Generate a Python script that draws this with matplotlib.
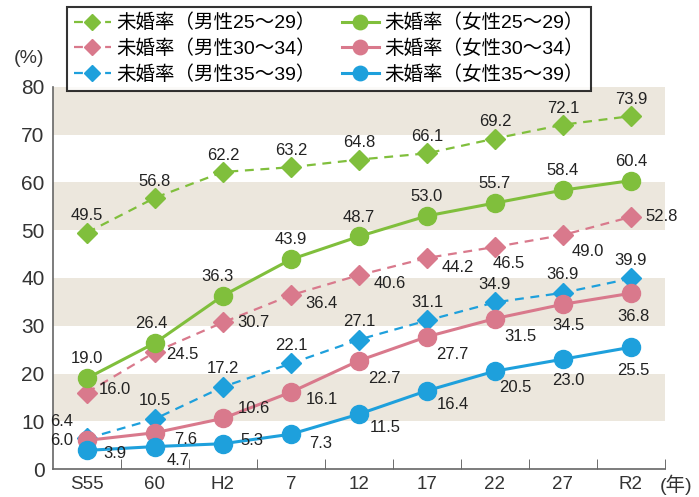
import numpy as np
import matplotlib.pyplot as plt

plt.rcParams['font.family'] = ['Liberation Sans', 'Noto Sans CJK JP', 'DejaVu Sans']

## data
years = ["S55", "60", "H2", "7", "12", "17", "22", "27", "R2"]
male_25_29 = [49.5, 56.8, 62.2, 63.2, 64.8, 66.1, 69.2, 72.1, 73.9]
male_30_34 = [16.0, 24.5, 30.7, 36.4, 40.6, 44.2, 46.5, 49.0, 52.8]
male_35_39 = [6.4, 10.5, 17.2, 22.1, 27.1, 31.1, 34.9, 36.9, 39.9]
female_25_29 = [19.0, 26.4, 36.3, 43.9, 48.7, 53.0, 55.7, 58.4, 60.4]
female_30_34 = [6.0, 7.6, 10.6, 16.1, 22.7, 27.7, 31.5, 34.5, 36.8]
female_35_39 = [3.9, 4.7, 5.3, 7.3, 11.5, 16.4, 20.5, 23.0, 25.5]

labels_m = ["未婚率（男性25～29）", "未婚率（男性30～34）", "未婚率（男性35～39）"]
labels_f = ["未婚率（女性25～29）", "未婚率（女性30～34）", "未婚率（女性35～39）"]

green = "#80bf3c"
pink = "#d9798c"
blue = "#1ea0dc"

## label offsets in points (dx, dy)
off_m25 = [(0, 12)] * 9
off_m30 = [(20, 2), (20, -2), (22, 0), (22, -6), (22, -6), (22, -7), (10, -12), (18, -12), (22, 0)]
off_m35 = [(-18, 12), (0, 13), (0, 13), (0, 13), (0, 13), (0, 13), (0, 13), (0, 13), (0, 13)]
off_f25 = [(0, 14), (-3, 14), (-4, 14), (0, 14), (0, 14), (0, 14), (0, 14), (0, 14), (0, 14)]
off_f30 = [(-18, 0), (22, -5), (22, 7), (22, -5), (18, -13), (18, -13), (18, -13), (4, -15), (2, -17)]
off_f35 = [(20, -2), (17, -10), (21, 2), (21, -7), (19, -10), (19, -10), (15, -12), (4, -15), (2, -17)]

x = np.arange(len(years))

fig = plt.figure(figsize=(6.99, 4.97), dpi=100)
ax = fig.add_axes([0.0758, 0.0563, 0.8755, 0.7687])

## background bands
for lo in [10, 30, 50, 70]:
    ax.axhspan(lo, lo + 10, color="#ece7dd", zorder=0, lw=0)

lines_m = []
lines_f = []
for vals, col, lab in zip([male_25_29, male_30_34, male_35_39], [green, pink, blue], labels_m):
    l, = ax.plot(x, vals, ls=(0, (4, 3)), lw=1.6, color=col, marker="D", ms=10,
                 markeredgecolor=col, label=lab, zorder=3)
    lines_m.append(l)
for vals, col, lab in zip([female_25_29, female_30_34, female_35_39], [green, pink, blue], labels_f):
    l, = ax.plot(x, vals, ls="-", lw=2.2, color=col, marker="o", ms=13,
                 markeredgecolor=col, label=lab, zorder=4)
    lines_f.append(l)

series = [male_25_29, male_30_34, male_35_39, female_25_29, female_30_34, female_35_39]
offsets = [off_m25, off_m30, off_m35, off_f25, off_f30, off_f35]
for vals, offs in zip(series, offsets):
    for i, v in enumerate(vals):
        ax.annotate(f"{v:.1f}", (x[i], v), xytext=offs[i], textcoords="offset points",
                    ha="center", va="center", fontsize=12, color="#222222", zorder=6)

ax.set_xlim(-0.5, len(years) - 0.5)
ax.set_ylim(0, 80)
ax.set_yticks(range(0, 81, 10))
ax.set_xticks(x)
ax.set_xticklabels(years)
ax.set_xticks(np.arange(0.5, len(years), 1), minor=True)
ax.tick_params(axis="x", which="major", length=0, labelsize=13.5, colors="#333333", pad=5)
ax.tick_params(axis="x", which="minor", direction="in", length=7, color="#555555")
ax.tick_params(axis="y", length=0, labelsize=15, colors="#333333", pad=6)
for s in ["top", "right"]:
    ax.spines[s].set_visible(False)
for s in ["left", "bottom"]:
    ax.spines[s].set_color("#666666")
    ax.spines[s].set_linewidth(1.2)

fig.text(0.02, 0.873, "(%)", fontsize=14, color="#333333")
fig.text(0.944, 0.012, "(年)", fontsize=14, color="#333333")

leg = fig.legend(handles=lines_m + lines_f, ncol=2, loc="upper left",
                 bbox_to_anchor=(0.096, 0.986), borderaxespad=0, fontsize=14,
                 frameon=True, fancybox=False, edgecolor="black", handlelength=1.9,
                 columnspacing=1.3, handletextpad=0.3, labelspacing=0.36,
                 borderpad=0.35, markerscale=0.8)
leg.get_frame().set_linewidth(1.5)
leg.set_zorder(10)

fig.savefig("out.png", dpi=100)
